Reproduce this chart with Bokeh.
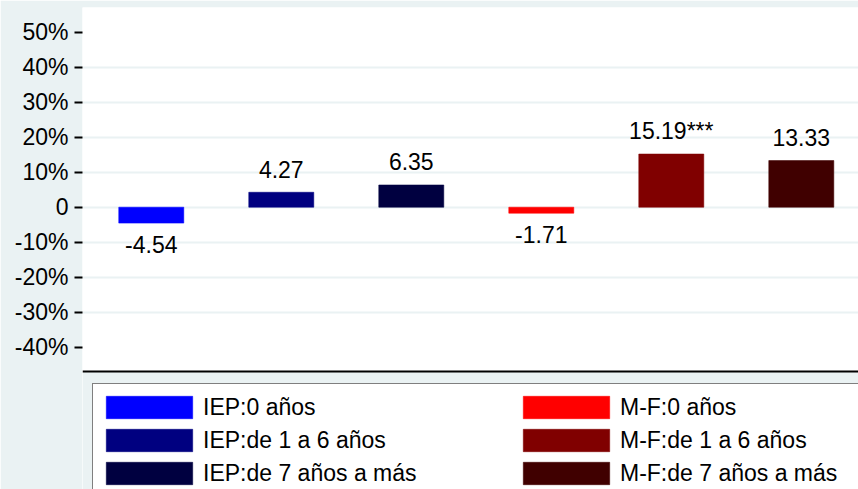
from bokeh.plotting import figure
from bokeh.models import (Range1d, FixedTicker, Legend, LegendItem, ColumnDataSource,
                          BoxAnnotation, Span)
from bokeh.core.properties import value
from bokeh.embed import file_html
from bokeh.resources import INLINE

# ---- data ----
categories = ["IEP:0 años", "IEP:de 1 a 6 años", "IEP:de 7 años a más",
              "M-F:0 años", "M-F:de 1 a 6 años", "M-F:de 7 años a más"]
values = [-4.54, 4.27, 6.35, -1.71, 15.19, 13.33]
value_labels = ["-4.54", "4.27", "6.35", "-1.71", "15.19***", "13.33"]
colors = ["#0000FF", "#000080", "#000040", "#FF0000", "#800000", "#400000"]
y_ticks = [-40, -30, -20, -10, 0, 10, 20, 30, 40, 50]
y_tick_labels = ["-40%", "-30%", "-20%", "-10%", "0", "10%", "20%", "30%", "40%", "50%"]

# ---- style ----
BG = "#EAF2F3"
FONT = "Liberation Sans"
Y_AXIS_FLOOR = -46.94   # where the plot region ends (x axis line)

x = [i + 1 for i in range(len(categories))]
src = ColumnDataSource(dict(
    x=x, top=values, color=colors, label=value_labels, cat=categories,
    yoff=[21 if v < 0 else -23 for v in values],
))

p = figure(width=858, height=489, output_backend="svg", toolbar_location=None,
           x_range=Range1d(0.471, 6.440), y_range=Range1d(-80.65, 57.06),
           min_border_left=82, min_border_right=0, min_border_top=7, min_border_bottom=0,
           background_fill_color="white", border_fill_color=BG, outline_line_color=None)

p.ygrid.ticker = FixedTicker(ticks=y_ticks[1:-1])
p.ygrid.grid_line_color = BG
p.ygrid.grid_line_width = 2
p.xgrid.visible = False

bars = p.vbar(x="x", top="top", bottom=0, width=0.5, fill_color="color",
              line_color="color", line_alpha=0.55, line_width=1, source=src)

p.text(x="x", y="top", text="label", y_offset="yoff", text_align="center",
       text_baseline="alphabetic", text_font=value(FONT), text_font_size="23px",
       text_color="black", source=src)

# y axis
p.yaxis.ticker = FixedTicker(ticks=y_ticks)
p.yaxis.major_label_overrides = dict(zip(y_ticks, y_tick_labels))
p.yaxis.axis_line_color = None
p.yaxis.major_tick_out = 8
p.yaxis.major_tick_in = 0
p.yaxis.major_tick_line_width = 2
p.yaxis.major_tick_line_color = "black"
p.yaxis.minor_tick_line_color = None
p.yaxis.major_label_standoff = 6
p.yaxis.major_label_text_font = FONT
p.yaxis.major_label_text_font_size = "23px"
p.yaxis.major_label_text_color = "black"
p.xaxis.visible = False

# region below the plot area (graph background) and the x axis line
p.add_layout(BoxAnnotation(top=Y_AXIS_FLOOR, fill_color=BG, fill_alpha=1.0, line_color=None))
p.add_layout(Span(location=Y_AXIS_FLOOR, dimension="width", line_color="black", line_width=2))

legend = Legend(
    items=[LegendItem(label=categories[i], renderers=[bars], index=i) for i in range(len(categories))],
    location=(10, -1.2), ncols=2, orientation="vertical",
    title=" ", title_text_font_size="1px", title_standoff=6,
    glyph_width=108, glyph_height=28, label_standoff=0, label_width=304, label_height=27,
    spacing=5, padding=2, margin=0,
    label_text_font=FONT, label_text_font_size="23px", label_text_color="black",
    border_line_color="black", border_line_width=1.5,
    background_fill_color="white", background_fill_alpha=1.0,
)
p.add_layout(legend, "center")

open("out.html", "w").write(file_html(p, INLINE))
